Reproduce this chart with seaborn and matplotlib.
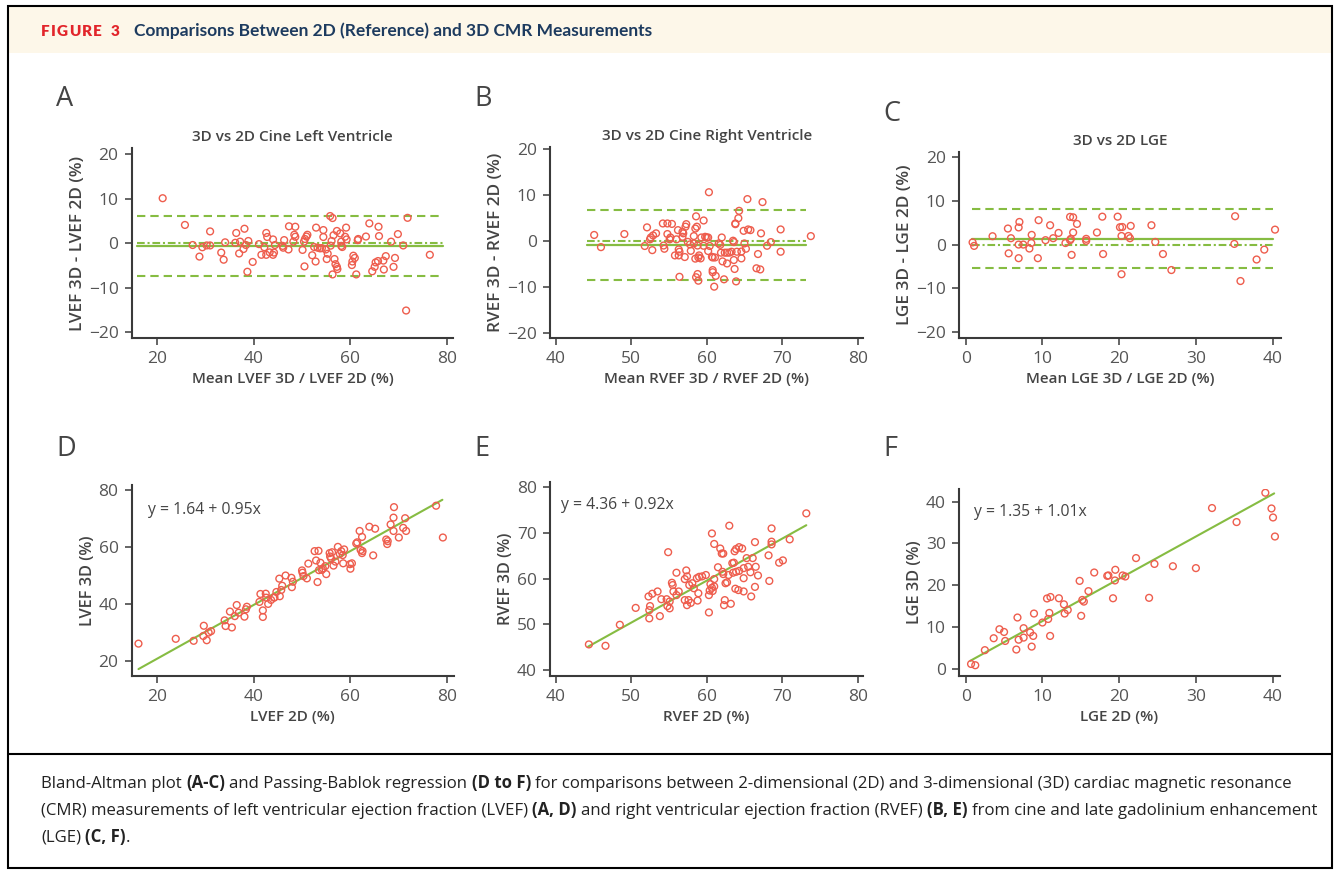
import matplotlib
matplotlib.use("Agg")
import matplotlib.pyplot as plt
import seaborn as sns
from matplotlib.patches import Rectangle

# ---------------- data ----------------
# A: Bland-Altman, LVEF (mean of 3D/2D vs difference 3D-2D)
lv_ba_mean = [21.2, 25.8, 27.4, 28.8, 29.4, 30.3, 31.0, 31.0, 33.3, 33.8,
              34.1, 36.4, 36.2, 37.0, 37.2, 38.1, 37.9, 38.4, 38.9, 38.7,
              39.8, 41.1, 41.6, 42.2, 42.6, 42.8, 42.6, 43.3, 44.0, 44.0,
              44.2, 44.4, 46.0, 46.3, 46.1, 47.2, 47.3, 48.6, 48.4, 48.6,
              48.2, 50.1, 50.4, 50.6, 50.9, 51.1, 50.5, 52.1, 52.5, 52.9,
              52.8, 53.2, 53.7, 54.1, 54.4, 54.4, 54.9, 55.1, 55.3, 55.8,
              56.3, 55.9, 56.1, 56.5, 56.7, 56.9, 57.2, 57.3, 56.3, 57.2,
              57.9, 58.1, 58.1, 58.3, 58.9, 59.1, 59.2, 60.4, 60.6, 60.9,
              60.3, 61.2, 61.5, 61.6, 63.2, 63.9, 64.5, 65.0, 65.2, 65.7,
              65.8, 65.9, 66.9, 66.8, 67.3, 68.4, 68.9, 69.2, 69.8, 70.9,
              71.8, 71.5, 76.4]
lv_ba_diff = [10.1, 4.1, -0.4, -3.0, -0.9, -0.5, -0.5, 2.65, -2.1, -3.7,
              0.2, 2.3, 0.1, -2.3, 0.35, 3.25, -1.3, -0.4, 0.5, -6.4,
              -4.2, -0.2, -2.6, -0.9, 2.3, 1.4, -2.6, -2.05, 0.85, -2.6,
              -2.1, -0.4, -0.6, 0.7, -1.0, -1.4, 3.8, 3.7, 1.9, 1.45,
              0.35, -1.5, 0.35, 0.95, 1.5, 1.9, -5.2, -2.7, -0.85, 3.5,
              -4.1, -1.0, -1.15, -1.1, 2.95, 1.4, -1.4, -3.55, -2.35, 6.1,
              5.65, -0.55, 0.5, 1.8, -3.55, -4.7, -5.3, -5.8, -7.0, 2.75,
              2.2, 0.35, -0.6, -0.85, 1.45, 3.5, 0.85, -4.1, -2.8, -3.3,
              -4.9, -7.0, 0.7, 0.95, 1.5, 4.45, -6.3, -5.3, -4.3, -4.0,
              3.7, 1.6, -5.9, -3.9, -2.9, 0.35, -5.3, -3.3, 2.05, -0.5,
              5.7, -15.1, -2.6]
lv_ba_bias = -0.65
lv_ba_loa = [6.0, -7.3]
lv_ba_span = [15.9, 79.2]

# B: Bland-Altman, RVEF
rv_ba_mean = [45.1, 46.0, 49.1, 51.8, 52.1, 52.5, 52.6, 52.8, 52.9, 53.3,
              54.2, 54.3, 54.4, 54.8, 54.8, 55.1, 55.2, 55.4, 55.8, 56.2,
              56.3, 56.4, 56.3, 56.0, 56.4, 56.8, 56.8, 56.9, 57.2, 57.3,
              57.1, 57.5, 57.8, 57.9, 58.3, 58.5, 58.3, 58.5, 58.6, 58.7,
              58.8, 58.9, 59.0, 59.2, 58.8, 58.6, 58.9, 59.3, 59.6, 59.6,
              59.8, 60.0, 60.2, 60.2, 60.3, 60.4, 60.7, 60.8, 61.1, 60.8,
              60.8, 61.2, 61.0, 61.6, 61.8, 62.0, 61.9, 62.1, 62.3, 62.4,
              62.7, 62.7, 63.0, 63.3, 63.5, 63.6, 63.6, 63.8, 63.8, 63.7,
              63.9, 64.0, 64.2, 64.3, 64.6, 64.6, 64.9, 65.0, 65.2, 65.4,
              65.5, 65.8, 66.6, 67.1, 67.2, 67.4, 66.8, 68.0, 68.5, 69.8,
              69.8, 73.8]
rv_ba_diff = [1.4, -1.25, 1.6, -1.0, 3.05, 0.45, 0.85, -1.9, 1.3, 1.75,
              3.9, -0.9, -1.6, 3.9, 1.6, 0.45, 0.85, 3.8, -3.05, 2.45,
              -1.75, -2.25, -3.05, 0.45, -7.7, 2.1, 1.0, 1.75, 3.2, 3.75,
              -3.4, -0.1, -0.65, -2.05, -0.45, -3.75, 1.15, 2.8, 5.45, 3.2,
              -0.9, -3.5, -3.05, -3.7, -7.1, -7.8, -8.55, 0.85, 4.55, -0.95,
              1.0, 0.85, 0.85, -2.1, 10.7, -1.0, -3.35, -3.5, -3.5, -6.25,
              -6.7, -7.5, -9.85, -0.45, -0.75, 0.85, -2.45, -4.35, -8.25, -2.45,
              -4.8, -2.45, -2.45, -2.25, 0.15, -0.15, -4.05, 3.75, 3.9, -6.0,
              -8.7, -2.25, 5.05, 6.65, -3.7, -2.2, 2.3, -0.45, -1.6, 9.2,
              2.6, 2.45, -5.85, -6.1, 1.75, 8.55, -2.75, -0.95, -0.15, 2.6,
              -2.25, 1.15]
rv_ba_bias = -0.72
rv_ba_loa = [6.8, -8.35]
rv_ba_span = [44.1, 73.2]

# C: Bland-Altman, LGE
lge_ba_mean = [0.9, 1.1, 3.5, 5.5, 5.6, 5.9, 6.9, 7.0, 6.9, 6.9,
               7.5, 8.3, 8.55, 8.6, 9.4, 9.5, 10.4, 11.0, 11.4, 12.1,
               13.0, 13.6, 14.0, 13.6, 13.7, 13.8, 14.0, 14.5, 15.7, 15.7,
               17.1, 17.8, 17.9, 19.8, 20.1, 20.4, 20.3, 20.3, 21.2, 21.4,
               21.5, 24.2, 24.7, 25.7, 26.8, 35.1, 35.0, 35.8, 37.9, 38.9,
               40.3]
lge_ba_diff = [0.5, -0.3, 1.9, 3.65, -2.0, 1.45, 3.9, 5.15, 0.0, -3.1,
               0.0, -0.9, 0.35, 2.2, -3.1, 5.55, 1.0, 4.4, 1.45, 2.65,
               0.35, 6.3, 6.2, 1.0, 1.3, -2.35, 2.75, 4.7, 1.3, 0.85,
               2.75, 6.35, -2.15, 6.35, 3.95, 4.0, 1.95, -6.75, 1.95, 1.45,
               4.25, 4.4, 0.6, -2.15, -5.8, 6.45, 0.15, -8.3, -3.4, -1.15,
               3.4]
lge_ba_bias = 1.25
lge_ba_loa = [8.0, -5.3]
lge_ba_span = [0.8, 40.0]

# D: Passing-Bablok, LVEF
lv_2d = [16.2, 23.9, 27.6, 29.7, 29.6, 30.3, 30.7, 31.2, 34.0, 34.2,
         35.5, 35.1, 36.5, 36.1, 36.9, 38.1, 38.4, 38.6, 41.2, 41.4,
         41.9, 41.9, 42.5, 43.0, 43.6, 44.2, 44.7, 45.4, 45.3, 45.9,
         46.6, 47.8, 48.1, 47.9, 50.0, 50.1, 51.0, 51.3, 52.6, 53.4,
         52.9, 53.2, 53.5, 53.8, 54.3, 55.0, 54.8, 55.7, 55.8, 56.0,
         56.5, 56.9, 57.4, 58.1, 58.4, 58.7, 58.5, 59.9, 60.0, 60.3,
         61.2, 61.4, 61.9, 62.4, 62.1, 62.4, 62.5, 63.9, 65.1, 64.7,
         67.4, 67.6, 67.7, 68.3, 68.9, 69.0, 68.9, 70.0, 70.9, 71.3,
         71.5, 77.7, 79.1, 56.2, 57.8, 54.1, 50.3, 45.7, 44.3, 42.6]
lv_3d = [26.0, 27.7, 27.0, 32.3, 28.7, 27.2, 29.9, 30.4, 34.2, 32.2,
         31.7, 37.3, 39.6, 35.7, 36.9, 35.5, 38.1, 39.0, 40.7, 43.5,
         37.7, 35.4, 43.6, 40.0, 41.4, 42.2, 44.2, 42.7, 48.9, 46.4,
         50.0, 49.2, 47.8, 45.9, 51.8, 51.0, 49.0, 54.2, 58.6, 58.7,
         55.3, 47.7, 51.9, 54.5, 52.5, 50.5, 53.3, 57.9, 56.7, 56.0,
         53.5, 54.9, 60.1, 58.6, 57.2, 59.2, 54.3, 54.0, 52.4, 54.3,
         61.3, 61.7, 65.7, 63.6, 59.0, 57.9, 58.6, 67.2, 66.5, 57.1,
         62.7, 61.1, 62.1, 68.0, 65.7, 74.1, 70.4, 63.4, 66.8, 70.2,
         65.7, 74.6, 63.4, 58.2, 57.6, 52.0, 49.8, 44.9, 42.3, 42.2]
lv_fit = (1.64, 0.95)
lv_fit_span = [16.2, 79.0]

# E: Passing-Bablok, RVEF
rv_2d = [44.4, 46.6, 48.5, 50.6, 52.4, 52.3, 52.5, 52.4, 52.8, 53.5,
         53.8, 54.0, 54.9, 54.7, 54.8, 55.1, 55.1, 55.4, 55.5, 55.6,
         56.0, 56.0, 56.3, 57.3, 57.1, 57.4, 57.1, 57.4, 57.6, 57.9,
         57.7, 58.1, 58.3, 58.8, 58.9, 58.7, 59.0, 59.4, 59.9, 60.4,
         60.3, 60.3, 60.5, 60.7, 61.0, 60.8, 61.0, 60.7, 61.0, 61.5,
         61.8, 62.0, 62.2, 62.1, 62.2, 62.4, 62.3, 62.5, 62.7, 63.0,
         62.9, 63.2, 63.4, 63.6, 63.7, 63.9, 64.3, 64.7, 63.5, 63.9,
         64.3, 63.8, 64.2, 64.9, 64.9, 64.9, 65.3, 65.5, 65.8, 65.9,
         66.1, 66.4, 66.5, 66.4, 66.8, 68.2, 68.3, 68.6, 68.6, 68.6,
         69.6, 70.1, 71.0, 73.2]
rv_3d = [45.6, 45.3, 49.9, 53.6, 53.1, 56.1, 54.0, 51.3, 56.7, 57.2,
         51.8, 55.5, 65.8, 55.5, 54.0, 53.5, 55.0, 59.1, 58.6, 57.2,
         61.3, 56.4, 57.2, 61.8, 59.9, 60.5, 55.3, 54.2, 55.3, 54.7,
         58.6, 59.0, 57.9, 55.2, 56.8, 60.1, 60.4, 60.5, 60.8, 57.4,
         56.4, 52.6, 58.8, 58.0, 58.3, 57.3, 59.9, 69.9, 67.6, 62.5,
         66.6, 65.5, 65.5, 61.5, 61.0, 55.3, 54.2, 59.0, 59.2, 71.6,
         60.8, 54.5, 63.4, 63.5, 66.0, 66.5, 66.9, 66.6, 61.3, 61.5,
         61.7, 57.8, 57.5, 57.2, 60.1, 62.3, 64.5, 62.6, 61.4, 56.1,
         64.5, 68.0, 62.6, 58.2, 60.7, 65.1, 59.5, 68.1, 67.5, 71.0,
         63.5, 64.0, 68.6, 74.3]
rv_fit = (4.36, 0.92)
rv_fit_span = [44.3, 73.2]

# F: Passing-Bablok, LGE
lge_2d = [0.7, 1.25, 2.5, 3.65, 4.4, 5.0, 5.15, 6.6, 6.75, 6.9,
          7.55, 7.55, 8.4, 8.6, 8.8, 8.9, 10.0, 10.6, 10.75, 10.9,
          11.05, 11.0, 12.15, 12.8, 12.9, 13.3, 14.85, 15.05, 15.2, 15.4,
          16.0, 16.75, 18.45, 18.6, 19.2, 19.5, 19.45, 20.45, 20.8, 22.2,
          23.9, 24.6, 27.0, 30.0, 32.1, 35.3, 39.05, 39.85, 40.05, 40.3]
lge_3d = [1.2, 0.9, 4.5, 7.35, 9.5, 8.85, 6.7, 4.65, 12.3, 7.0,
          9.75, 7.5, 8.75, 5.35, 7.9, 13.25, 11.1, 16.85, 11.95, 13.4,
          17.2, 7.9, 16.9, 15.45, 13.25, 14.1, 21.05, 12.7, 16.5, 16.1,
          18.6, 23.05, 22.25, 22.35, 16.9, 23.7, 21.15, 22.35, 22.1, 26.5,
          17.0, 25.1, 24.55, 24.1, 38.45, 35.1, 42.1, 38.35, 36.2, 31.65]
lge_fit = (1.35, 1.01)
lge_fit_span = [0.6, 40.2]

# ---------------- style ----------------
RED = "#EE5D4D"
GREEN = "#86BC42"
DARK = "#3a3a3a"
TXT = "#444444"
TICK = "#555555"

sns.set_style("ticks")
plt.rcParams["font.family"] = ["Open Sans", "DejaVu Sans"]

W, H = 1336, 874
fig = plt.figure(figsize=(W / 100, H / 100), dpi=100)

# overlay in pixel coords for frame, header and caption
ov = fig.add_axes([0, 0, 1, 1], zorder=-1)
ov.set_xlim(0, W)
ov.set_ylim(H, 0)
ov.axis("off")
ov.add_patch(Rectangle((8, 6), 1324, 47, fc="#FDF7E9", ec="none"))
ov.add_patch(Rectangle((8, 6), 1324, 862, fill=False, ec="black", lw=1.5, clip_on=False))
ov.plot([8, 1332], [754, 754], color="black", lw=1.5)

# "FIGURE 3" with letter spacing: one glyph after the other
prev = None
for ch in "FIGURE 3":
    kw = dict(color="#E2252B", fontsize=11, fontweight="heavy",
              family=["Lato", "DejaVu Sans"])
    if prev is None:
        prev = ov.text(41, 31, ch, va="center", ha="left", **kw)
    else:
        prev = ov.annotate(ch, xy=(1, 0), xycoords=prev, xytext=(0.9 if ch != " " else 2.6, 0),
                           textcoords="offset points", va="bottom", ha="left", **kw)
ov.text(134, 31, "Comparisons Between 2D (Reference) and 3D CMR Measurements",
        color="#1D3B5F", fontsize=12.5, fontweight="bold",
        family=["Lato", "DejaVu Sans"], va="center")


def px_axes(left, top, right, bottom):
    return fig.add_axes([left / W, 1 - bottom / H, (right - left) / W, (bottom - top) / H])


def style(ax, xlim, ylim, xticks, yticks, xlabel, ylabel, title=None, ylsize=12.3):
    ax.set_xlim(*xlim)
    ax.set_ylim(*ylim)
    ax.set_xticks(xticks)
    ax.set_yticks(yticks)
    sns.despine(ax=ax)
    for s in ["left", "bottom"]:
        ax.spines[s].set_linewidth(1.5)
        ax.spines[s].set_color(DARK)
    ax.tick_params(length=5, width=1.1, color=DARK, labelsize=12.5,
                   labelcolor=TICK, pad=4.5)
    ax.set_xlabel(xlabel, fontsize=11, color=TXT, fontweight="semibold", labelpad=4)
    ax.set_ylabel(ylabel, fontsize=ylsize, color=TXT, fontweight="semibold", labelpad=2)
    if title:
        ax.set_title(title, fontsize=11, color=TXT, fontweight="semibold", pad=5)


def bland_altman(ax, mean, diff, bias, loa, span):
    sns.scatterplot(x=mean, y=diff, ax=ax, marker="o", s=24, facecolors="none",
                    edgecolor=RED, linewidth=1.0, zorder=3)
    ax.plot(span, [0, 0], color=GREEN, lw=1.5, dashes=(3.7, 1.35, 1.0, 1.35))
    ax.plot(span, [bias, bias], color=GREEN, lw=1.6)
    for v in loa:
        ax.plot(span, [v, v], color=GREEN, lw=1.5, dashes=(4, 2.4))


def regression(ax, x, y, fit, span, pos):
    sns.scatterplot(x=x, y=y, ax=ax, marker="o", s=24, facecolors="none",
                    edgecolor=RED, linewidth=1.0, zorder=3)
    a, b = fit
    sns.lineplot(x=span, y=[a + b * span[0], a + b * span[1]], ax=ax,
                 color=GREEN, lw=1.5, zorder=2)
    ax.text(pos[0], pos[1], f"y = {a:.2f} + {b:.2f}x", transform=ax.transAxes,
            fontsize=11.3, color=TXT, va="center", ha="left")


ax = px_axes(131.7, 148.3, 453.3, 337.7)
bland_altman(ax, lv_ba_mean, lv_ba_diff, lv_ba_bias, lv_ba_loa, lv_ba_span)
style(ax, (14.8, 81.25), (-21.2, 21.3), [20, 40, 60, 80], [-20, -10, 0, 10, 20],
      "Mean LVEF 3D / LVEF 2D (%)", "LVEF 3D - LVEF 2D (%)", "3D vs 2D Cine Left Ventricle")

ax = px_axes(550, 146.7, 863.3, 337.7)
bland_altman(ax, rv_ba_mean, rv_ba_diff, rv_ba_bias, rv_ba_loa, rv_ba_span)
style(ax, (39.25, 80.75), (-20.95, 20.6), [40, 50, 60, 70, 80], [-20, -10, 0, 10, 20],
      "Mean RVEF 3D / RVEF 2D (%)", "RVEF 3D - RVEF 2D (%)", "3D vs 2D Cine Right Ventricle")

ax = px_axes(959, 151.7, 1280.7, 337.7)
bland_altman(ax, lge_ba_mean, lge_ba_diff, lge_ba_bias, lge_ba_loa, lge_ba_span)
style(ax, (-0.87, 41.04), (-21.2, 21.14), [0, 10, 20, 30, 40], [-20, -10, 0, 10, 20],
      "Mean LGE 3D / LGE 2D (%)", "LGE 3D - LGE 2D (%)", "3D vs 2D LGE")

ax = px_axes(131.7, 485, 454, 675.7)
regression(ax, lv_2d, lv_3d, lv_fit, lv_fit_span, (0.052, 0.869))
style(ax, (14.8, 81.4), (14.7, 81.9), [20, 40, 60, 80], [20, 40, 60, 80],
      "LVEF 2D (%)", "LVEF 3D (%)", ylsize=11.8)

ax = px_axes(550, 482.3, 863.3, 675.7)
regression(ax, rv_2d, rv_3d, rv_fit, rv_fit_span, (0.035, 0.883))
style(ax, (39.25, 80.75), (38.75, 81.1), [40, 50, 60, 70, 80], [40, 50, 60, 70, 80],
      "RVEF 2D (%)", "RVEF 3D (%)", ylsize=11.8)

ax = px_axes(959, 489, 1280, 675.7)
regression(ax, lge_2d, lge_3d, lge_fit, lge_fit_span, (0.047, 0.875))
style(ax, (-0.87, 40.96), (-1.6, 43.0), [0, 10, 20, 30, 40], [0, 10, 20, 30, 40],
      "LGE 2D (%)", "LGE 3D (%)", ylsize=11.8)

# panel letters
for letter, x, y in [("A", 56, 106), ("B", 474, 106), ("C", 883, 121),
                     ("D", 56, 456), ("E", 474, 456), ("F", 883, 456)]:
    ov.text(x, y, letter, fontsize=19.5, color=TXT, fontweight="medium",
            va="baseline", ha="left")

# caption with bold fragments, chained left to right
caption = [
    [("Bland-Altman plot", False), ("(A-C)", True), ("and Passing-Bablok regression", False),
     ("(D to F)", True),
     ("for comparisons between 2-dimensional (2D) and 3-dimensional (3D) cardiac magnetic resonance", False)],
    [("(CMR) measurements of left ventricular ejection fraction (LVEF)", False), ("(A, D)", True),
     ("and right ventricular ejection fraction (RVEF)", False), ("(B, E)", True),
     ("from cine and late gadolinium enhancement", False)],
    [("(LGE)", False), ("(C, F)", True), (".", False)],
]
CAP_SIZE = 12.1
SPACE = 0.26 * CAP_SIZE
for i, line in enumerate(caption):
    prev = None
    for s, bold in line:
        kw = dict(fontsize=CAP_SIZE, color="#222222", fontweight="bold" if bold else "normal")
        if prev is None:
            prev = ov.text(41, 784 + 27 * i, s, va="center", ha="left", **kw)
        else:
            gap = 0 if s == "." else SPACE
            prev = ov.annotate(s, xy=(1, 0), xycoords=prev, xytext=(gap, 0),
                               textcoords="offset points", va="bottom", ha="left", **kw)

fig.savefig("out.png", dpi=100)
